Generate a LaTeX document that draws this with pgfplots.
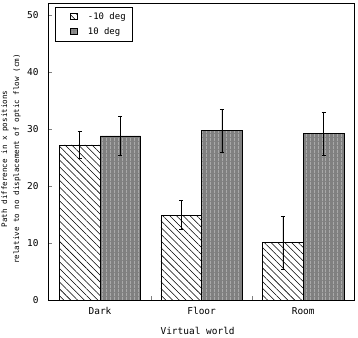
\documentclass[border=0pt]{standalone}
\usepackage{pgfplots}
\pgfplotsset{compat=1.18}
\usepackage{fontspec}
\setmainfont{DejaVu Sans Mono}
\usetikzlibrary{patterns.meta}
\begin{document}
\begin{tikzpicture}
\useasboundingbox (-48bp,-38bp) rectangle (310bp,300bp);
\begin{axis}[
  at={(0,0)}, anchor=south west,
  scale only axis, width=306bp, height=297bp,
  xmin=-0.512, xmax=2.5, ymin=0, ymax=52.1,
  ybar, bar width=0.4,
  ytick={0,10,20,30,40,50},
  xtick={0.5,1.5}, xticklabels={},
  extra x ticks={0,1,2},
  extra x tick labels={Dark,Floor,Room},
  extra x tick style={tick style={draw=none}},
  tick pos=left, tick align=inside,
  major tick length=4bp,
  axis line style={line width=0.7bp},
  /pgf/number format/assume math mode=true,
  yticklabel style={font=\fontsize{9.5}{10}\selectfont, xshift=-6bp},
  xticklabel style={font=\fontsize{9.5}{10}\selectfont, yshift=-4bp},
  ylabel={Path difference in x positions\\relative to no displacement of optic flow (cm)},
  ylabel style={align=center, font=\fontsize{7.6}{12}\selectfont, at={(axis description cs:-0.078,0.475)}, anchor=south},
  xlabel={Virtual world},
  xlabel style={font=\fontsize{9.5}{10}\selectfont, at={(axis description cs:0.489,0)}, anchor=center, yshift=-31bp},
  legend style={at={(axis description cs:0.0229,0.9865)}, anchor=north west, draw=black, line width=0.6bp, font=\fontsize{9}{10}\selectfont, inner xsep=5bp, inner ysep=3bp, row sep=3bp},
  legend cell align=left,
  legend image code/.code={\draw[#1,line width=0.6bp] (0bp,-3bp) rectangle (6.5bp,3bp); \path (-10bp,0bp) (15bp,0bp);},
]
\addplot[draw=black, line width=0.6bp, bar shift=-0.2,
  pattern={Lines[angle=-45,distance=4.8bp,line width=0.55bp]},
  error bars/.cd, y dir=both, y explicit,
  error bar style={line width=0.7bp, black},
  error mark options={rotate=90, mark size=2bp, line width=0.7bp, black}]
  coordinates {(0,27.2) +- (0,2.3) (1,14.9) +- (0,2.5) (2,10.05) +- (0,4.6)};
\addlegendentry{-10 deg}
\addplot[draw=black, line width=0.6bp, bar shift=0.2, fill=black!50,
  postaction={pattern={Lines[angle=90,distance=3.6bp,line width=0.45bp]}, pattern color=black!25},
  error bars/.cd, y dir=both, y explicit,
  error bar style={line width=0.7bp, black},
  error mark options={rotate=90, mark size=2bp, line width=0.7bp, black}]
  coordinates {(0,28.8) +- (0,3.5) (1,29.7) +- (0,3.8) (2,29.2) +- (0,3.8)};
\addlegendentry{10 deg}
\end{axis}
\end{tikzpicture}
\end{document}
